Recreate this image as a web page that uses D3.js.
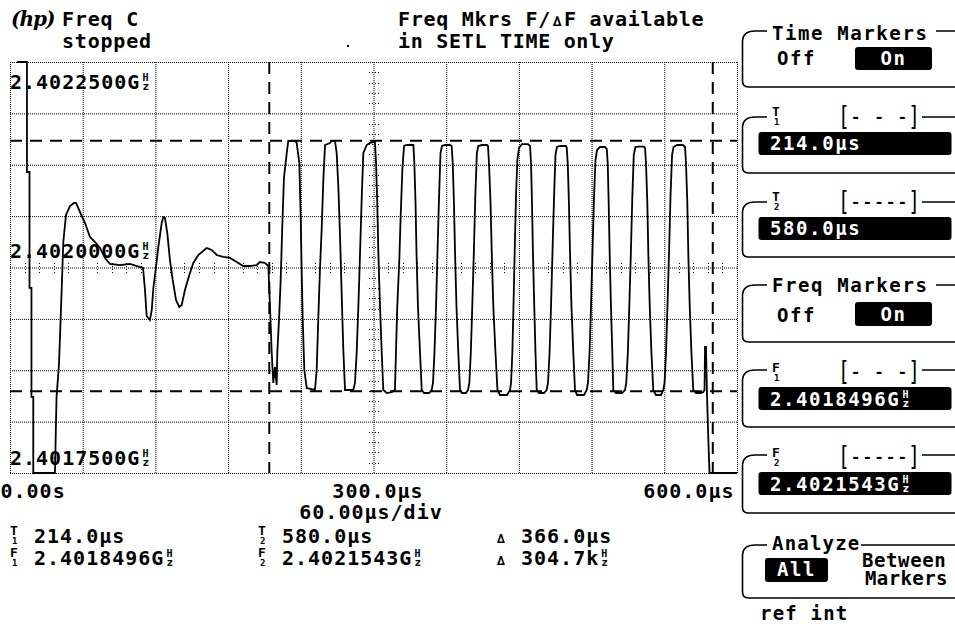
<!DOCTYPE html>
<html><head><meta charset="utf-8">
<script src="https://cdn.jsdelivr.net/npm/d3@7"></script>
<style>
html,body{margin:0;padding:0;background:#fff;}
svg{display:block;background:#fff;}
text{font-family:"DejaVu Sans Mono",monospace;font-weight:bold;fill:#000;}
</style></head><body>
<svg id="c" width="955" height="629"></svg>
<script>
// ---------- DATA ----------
// trace: time (µs) and frequency offset from 2.402 GHz (kHz)
const timeUs = [
 5.8,14.0,14.0,16.1,16.1,17.7,17.7,19.2,19.2,37.1,
 38.4,40.4,41.7,42.7,44.0,46.2,49.5,52.8,54.5,57.8,61.9,66.0,70.2,74.3,78.4,
 82.5,90.8,99.0,104.8,109.8,111.4,112.8,115.5,117.0,118.3,120.5,122.4,125.2,126.5,127.9,
 129.8,132.0,134.3,137.0,139.7,141.7,144.4,148.0,151.3,155.4,162.3,166.5,170.6,176.0,181.6,
 187.1,192.5,198.1,203.6,206.3,210.5,213.2,214.6,216.0,217.3,218.7,220.1,
 220.6,222.0,223.4,224.7,226.1,228.4,229.7,235.2,236.6,238.8,239.9,240.7,
 241.6,242.9,244.9,251.7,253.1,254.4,255.8,257.2,258.6,260.0,264.1,265.5,268.2,
 269.6,271.0,272.4,273.8,275.1,276.5,283.3,284.7,286.1,287.5,288.9,290.3,291.6,
 294.4,297.1,301.2,302.1,303.1,304.0,305.4,306.8,308.1,310.9,315.0,317.7,318.6,
 319.6,321.3,322.4,323.8,325.2,327.4,332.9,333.7,334.7,
 335.5,336.7,338.4,339.8,341.7,345.8,348.0,349.1,350.3,351.6,352.8,354.1,355.3,356.5,
 359.0,363.1,364.5,365.4,366.4,367.3,368.5,370.0,371.4,373.0,376.3,378.0,379.1,380.3,381.5,382.8,384.0,385.3,386.5,
 389.5,393.7,394.5,395.3,396.6,397.6,398.9,400.7,402.3,404.4,410.2,412.7,413.5,414.6,415.5,416.5,417.6,418.7,420.1,
 422.6,427.5,429.2,430.0,430.8,431.6,432.7,433.7,434.7,436.6,440.7,442.9,444.0,445.3,446.5,447.7,449.0,450.2,451.4,
 453.9,458.9,459.5,460.3,461.3,462.2,463.4,464.9,466.3,468.0,473.7,476.0,477.0,478.3,479.5,480.7,482.0,483.2,484.5,
 486.9,491.1,492.5,493.3,494.1,494.9,496.0,497.1,497.9,500.1,505.1,507.6,508.6,509.9,511.1,512.4,513.6,514.8,516.2,
 518.3,523.2,524.1,524.9,526.0,526.8,528.0,529.4,530.9,533.1,537.3,539.2,540.2,541.4,542.6,543.9,545.1,546.4,547.6,
 550.5,555.4,557.1,557.9,559.0,559.8,561.0,562.4,563.9,566.2,570.3,572.2,573.2,573.6,574.4,575.2,576.1,577.3,600.0
];
const freqKHz = [
 250,250,116.2,116.2,-24.9,-24.9,-157.5,-157.5,-250,-250,
 -157.5,-118.6,-66.3,-24.9,31.0,63.9,74.8,78.5,78.5,67.5,54.1,37.1,31.0,23.7,11.6,
 4.3,3.0,4.3,1.8,-0.6,-27.4,-59.0,-63.9,-51.7,-24.9,0.6,24.9,54.1,61.4,60.2,
 42.0,9.1,-15.2,-39.5,-48.1,-45.6,-27.4,-9.1,5.5,15.2,23.7,21.3,15.2,12.8,11.6,
 6.7,1.8,1.8,3.0,6.7,5.5,1.8,-48.1,-104.0,-140.5,-121.0,-142.9,
 -104.0,-63.9,-15.2,49.3,108.9,139.3,153.9,153.9,151.5,127.1,61.4,-3.0,
 -63.9,-124.7,-146.6,-149.0,-124.7,-63.9,-3.0,45.6,106.4,149.0,151.5,153.9,153.9,
 139.3,97.9,37.1,-35.9,-100.4,-149.0,-149.0,-140.5,-104.0,-48.1,17.6,85.8,139.3,
 149.0,151.5,152.7,127.1,78.5,17.6,-48.1,-104.0,-149.0,-152.7,-151.5,-149.0,-100.4,
 -48.1,9.1,61.4,118.6,147.8,149.0,149.0,127.1,78.5,
 17.6,-48.1,-104.0,-149.0,-152.7,-152.7,-149.0,-140.5,-104.0,-48.1,17.6,85.8,139.3,147.8,
 149.0,149.0,147.8,127.1,78.5,17.6,-48.1,-104.0,-149.0,-152.7,-152.7,-149.0,-140.5,-104.0,-48.1,17.6,85.8,139.3,147.8,
 149.0,149.0,147.8,127.1,78.5,17.6,-48.1,-104.0,-149.0,-155.1,-155.1,-149.0,-140.5,-104.0,-48.1,17.6,85.8,130.8,145.4,
 150.2,150.2,147.8,127.1,78.5,17.6,-48.1,-104.0,-149.0,-152.7,-152.7,-149.0,-140.5,-104.0,-48.1,17.6,85.8,136.9,146.6,
 147.8,147.8,145.4,127.1,78.5,17.6,-48.1,-104.0,-149.0,-155.1,-155.1,-149.0,-140.5,-104.0,-48.1,17.6,85.8,130.8,142.9,
 146.6,146.6,144.2,127.1,78.5,17.6,-48.1,-104.0,-149.0,-152.7,-152.7,-149.0,-140.5,-104.0,-48.1,17.6,85.8,136.9,146.6,
 147.0,147.0,145.4,127.1,78.5,17.6,-48.1,-104.0,-149.0,-155.1,-155.1,-149.0,-140.5,-104.0,-48.1,17.6,85.8,136.9,146.6,
 149.0,149.0,146.6,127.1,78.5,17.6,-48.1,-104.0,-149.0,-152.7,-152.7,-151.5,-149.0,-96.7,-96.7,-152.7,-197.7,-250,-250
];
const centerGHz = 2.402;
const xTickValues = [0, 300, 600];
const xTickLabels = ["0.00s", "300.0µs", "600.0µs"];
const yTickValues = [250, 0, -250];
const yTickLabels = ["2.4022500G", "2.4020000G", "2.4017500G"];
const timeMarkersUs = [214.0, 580.0];
const freqMarkersKHz = [-150.4, 154.3];   // 2.4018496 GHz, 2.4021543 GHz
const markerTimeLabels = ["214.0µs", "580.0µs"];
const markerFreqLabels = ["2.4018496G", "2.4021543G"];
const deltaTimeLabel = "366.0µs";
const deltaFreqLabel = "304.7k";
const timeDivLabel = "60.00µs/div";

// ---------- SETUP ----------
const svg = d3.select("#c");
const P = {l:10, r:737, t:62, b:473};
const x = d3.scaleLinear().domain([0,600]).range([P.l, P.r]);
const y = d3.scaleLinear().domain([-250,250]).range([P.b, P.t]);

function txt(parent, px, py, s, o={}) {
  const t = parent.append("text").attr("x",px).attr("y",py).text(s)
    .style("font-size",(o.size||20)+"px")
    .style("letter-spacing",(o.ls!=null?o.ls:1)+"px");
  if (o.anchor) t.attr("text-anchor",o.anchor);
  if (o.fill) t.style("fill",o.fill);
  if (o.family) t.style("font-family",o.family);
  if (o.italic) t.style("font-style","italic");
  return t;
}
// stacked "H over z" glyph, as one text element
function hzAfter(parent, node, py, fill) {
  const bb = node.getBBox();
  const hx = bb.x + bb.width + 2;
  const t = parent.append("text").attr("x",hx).attr("y",py-8)
    .style("font-size","10px").style("letter-spacing","0px");
  if (fill) t.style("fill",fill);
  t.append("tspan").text("H");
  t.append("tspan").attr("x",hx).attr("dy",9).style("font-size","11px").text("z");
}
// letter with digit underneath, as one text element
function subLabel(parent, px, py, letter, n, fill) {
  const t = parent.append("text").attr("x",px).attr("y",py)
    .style("font-size","13px").style("letter-spacing","0px");
  if (fill) t.style("fill",fill);
  t.append("tspan").text(letter);
  t.append("tspan").attr("x",px+2).attr("dy",9).style("font-size","9px").text(n);
}

// ---------- GRID ----------
const gx = svg.append("g").attr("transform",`translate(0,${P.b})`)
  .call(d3.axisBottom(x).tickValues(d3.range(0,601,60)).tickSize(-(P.b-P.t)).tickFormat(""));
gx.select(".domain").remove();
gx.selectAll("line").attr("stroke","#000").attr("stroke-width",1).attr("stroke-dasharray","1,1");

const gy = svg.append("g").attr("transform",`translate(${P.l},0)`)
  .call(d3.axisLeft(y).tickValues(d3.range(-250,250.1,62.5)).tickSize(-(P.r-P.l)).tickFormat(""));
gy.select(".domain").remove();
gy.selectAll("line").attr("stroke","#000").attr("stroke-width",1).attr("stroke-dasharray","1,1");

// minor ticks on centre lines
const minorX = d3.range(0,600.1,12).filter(v => v % 60 !== 0);
svg.append("g").selectAll("line").data(minorX).join("line")
  .attr("x1",d=>Math.round(x(d))+0.5).attr("x2",d=>Math.round(x(d))+0.5)
  .attr("y1",Math.round(y(0))-5).attr("y2",Math.round(y(0))+6)
  .attr("stroke","#000").attr("stroke-dasharray","1,2");
const minorY = d3.range(-250,250.1,12.5).filter(v => Math.abs(v % 62.5) > 0.01);
svg.append("g").selectAll("line").data(minorY).join("line")
  .attr("y1",d=>Math.round(y(d))+0.5).attr("y2",d=>Math.round(y(d))+0.5)
  .attr("x1",Math.round(x(300))-5).attr("x2",Math.round(x(300))+6)
  .attr("stroke","#000").attr("stroke-dasharray","1,2");

// ---------- MARKERS ----------
svg.append("g").selectAll("line").data(timeMarkersUs).join("line")
  .attr("x1",d=>x(d)).attr("x2",d=>x(d)).attr("y1",P.t).attr("y2",P.b)
  .attr("stroke","#000").attr("stroke-width",2).attr("stroke-dasharray","12,8");
svg.append("g").selectAll("line").data(freqMarkersKHz).join("line")
  .attr("y1",d=>y(d)).attr("y2",d=>y(d)).attr("x1",P.l).attr("x2",P.r)
  .attr("stroke","#000").attr("stroke-width",2).attr("stroke-dasharray","12,8");

// ---------- TRACE ----------
svg.append("clipPath").attr("id","pc").append("rect")
  .attr("x",P.l-1).attr("y",P.t-1).attr("width",P.r-P.l+2).attr("height",P.b-P.t+2);
const pts = d3.zip(timeUs, freqKHz);
svg.append("path").datum(pts).attr("clip-path","url(#pc)")
  .attr("fill","none").attr("stroke","#000").attr("stroke-width",1.8)
  .attr("stroke-linejoin","miter")
  .attr("d", d3.line().x(d=>x(d[0])).y(d=>y(d[1])));

// ---------- AXIS LABELS ----------
const yOff = [27, -10, -8];
const gyl = svg.append("g");
yTickValues.forEach((v,i) => {
  const t = txt(gyl, P.l, y(v)+yOff[i], yTickLabels[i], {size:20, ls:1});
  hzAfter(gyl, t.node(), y(v)+yOff[i]);
});
const gxl = svg.append("g").attr("transform",`translate(0,${P.b})`)
  .call(d3.axisBottom(x).tickValues(xTickValues).tickSize(0).tickPadding(0)
        .tickFormat((d,i)=>xTickLabels[i]));
gxl.select(".domain").remove();
const anchors = ["start","middle","end"], dxs = [-10, 4, -3];
gxl.selectAll("text")
  .attr("text-anchor",(d,i)=>anchors[i]).attr("dx",(d,i)=>dxs[i]).attr("dy",0).attr("y",25)
  .style("font-size","20px").style("letter-spacing","1px")
  .style("font-family","DejaVu Sans Mono").style("font-weight","bold").attr("fill","#000");
txt(svg, 371, 519, timeDivLabel, {anchor:"middle"});

// ---------- HEADER ----------
txt(svg, 11, 26, "(hp)", {size:20, ls:-1, family:"DejaVu Serif", italic:true});
txt(svg, 62, 26, "Freq C", {size:20, ls:0.8});
txt(svg, 62, 48, "stopped", {size:20, ls:0.8});
const hdr = txt(svg, 398, 26, "Freq Mkrs F/", {size:20, ls:0.7});
hdr.append("tspan").style("font-size","14px").attr("dx",2).text("∆");
hdr.append("tspan").attr("dx",2).text("F available");
txt(svg, 398, 48, "in SETL TIME only", {size:20, ls:0.7});
svg.append("rect").attr("x",347).attr("y",45).attr("width",2).attr("height",2).attr("fill","#000");

// ---------- MARKER READOUT ----------
subLabel(svg, 10, 535, "T", "1");
txt(svg, 34, 543, markerTimeLabels[0]);
subLabel(svg, 258, 535, "T", "2");
txt(svg, 282, 543, markerTimeLabels[1]);
txt(svg, 497, 543, "∆", {size:13, ls:0});
txt(svg, 521, 543, deltaTimeLabel);
subLabel(svg, 10, 557, "F", "1");
let tt = txt(svg, 34, 565, markerFreqLabels[0]); hzAfter(svg, tt.node(), 565);
subLabel(svg, 258, 557, "F", "2");
tt = txt(svg, 282, 565, markerFreqLabels[1]); hzAfter(svg, tt.node(), 565);
txt(svg, 497, 565, "∆", {size:13, ls:0});
tt = txt(svg, 521, 565, deltaFreqLabel); hzAfter(svg, tt.node(), 565);

// ---------- RIGHT PANEL ----------
const rp = svg.append("g");
function boxFrame(top, bottom, gapStart, gapEnd) {
  const p = d3.path();
  p.moveTo(gapStart, top); p.lineTo(755, top);
  p.quadraticCurveTo(743, top, 742.5, top+10);
  p.lineTo(742.5, bottom-6);
  p.quadraticCurveTo(742.5, bottom, 748.5, bottom);
  p.lineTo(955, bottom);
  p.moveTo(gapEnd, top); p.lineTo(955, top);
  rp.append("path").attr("d", p.toString()).attr("fill","none").attr("stroke","#000").attr("stroke-width",1.6);
}
function blackBar(x0, y0, w, h) {
  rp.append("rect").attr("x",x0).attr("y",y0).attr("width",w).attr("height",h).attr("rx",3).attr("fill","#000");
}
function bracket(py, s) {
  txt(rp, 838, py, s, {size:26, ls:0}).attr("textLength",82).attr("lengthAdjust","spacingAndGlyphs")
    .style("font-weight","normal");
}
// Time Markers
boxFrame(31, 87, 767, 936);
txt(rp, 772, 40, "Time Markers", {size:19, ls:1.6});
txt(rp, 777, 65, "Off", {size:19, ls:1.6});
blackBar(855, 47, 77, 23);
txt(rp, 893.5, 65, "On", {size:19, ls:1.6, fill:"#fff", anchor:"middle"});
// T1
boxFrame(117, 173, 767, 922);
subLabel(rp, 772, 116, "T", "1");
bracket(125, "[- - -]");
blackBar(758.5, 132, 193, 23);
txt(rp, 770, 150, markerTimeLabels[0], {size:19, ls:1.6, fill:"#fff"});
// T2
boxFrame(202, 257, 767, 922);
subLabel(rp, 772, 201, "T", "2");
bracket(210, "[-----]");
blackBar(758.5, 217, 193, 23);
txt(rp, 770, 235, markerTimeLabels[1], {size:19, ls:1.6, fill:"#fff"});
// Freq Markers
boxFrame(285, 342, 767, 936);
txt(rp, 772, 292, "Freq Markers", {size:19, ls:1.6});
txt(rp, 777, 322, "Off", {size:19, ls:1.6});
blackBar(855, 302, 77, 24);
txt(rp, 893.5, 321, "On", {size:19, ls:1.6, fill:"#fff", anchor:"middle"});
// F1
boxFrame(370, 427, 767, 922);
subLabel(rp, 772, 372, "F", "1");
bracket(380, "[- - -]");
blackBar(758.5, 387, 193, 23);
tt = txt(rp, 770, 406, markerFreqLabels[0], {size:19, ls:1.6, fill:"#fff"}); hzAfter(rp, tt.node(), 406, "#fff");
// F2
boxFrame(455, 513, 767, 922);
subLabel(rp, 772, 457, "F", "2");
bracket(465, "[-----]");
blackBar(758.5, 472, 193, 23);
tt = txt(rp, 770, 491, markerFreqLabels[1], {size:19, ls:1.6, fill:"#fff"}); hzAfter(rp, tt.node(), 491, "#fff");
// Analyze
boxFrame(545, 598, 767, 861);
txt(rp, 772, 550, "Analyze", {size:19, ls:1.2});
txt(rp, 862, 567, "Between", {size:19, ls:0.6});
txt(rp, 865, 585, "Markers", {size:19, ls:0.4});
blackBar(765, 558, 63, 24);
txt(rp, 796.5, 576, "All", {size:19, ls:1.6, fill:"#fff", anchor:"middle"});
txt(rp, 760, 620, "ref int", {size:19, ls:1.2});
</script>
</body></html>
